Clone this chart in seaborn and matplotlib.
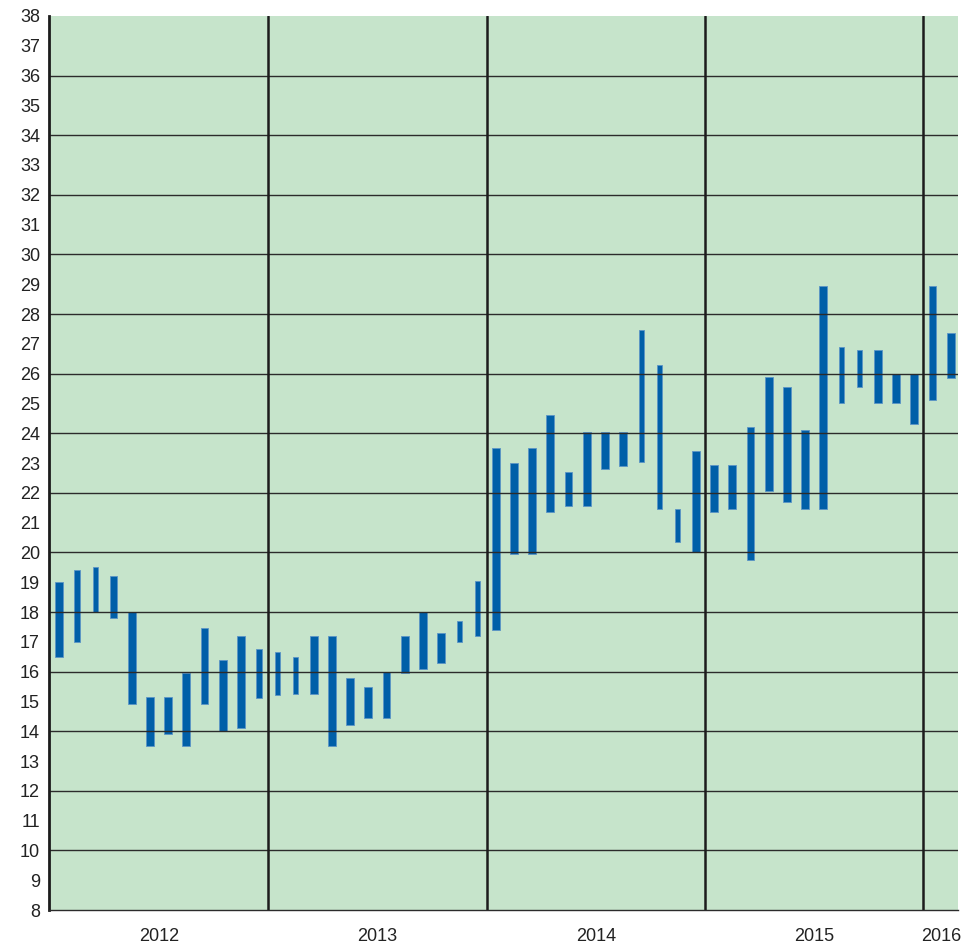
import numpy as np
import pandas as pd
import seaborn as sns
import matplotlib.pyplot as plt

# monthly low / high ranges, Jan 2012 .. Feb 2016
years = [2012] * 12 + [2013] * 12 + [2014] * 12 + [2015] * 12 + [2016] * 2
months = list(range(1, 13)) * 4 + [1, 2]
low = [16.5, 17.0, 18.0, 17.8, 14.9, 13.5, 13.9, 13.5, 14.9, 14.0, 14.1, 15.1,
       15.2, 15.25, 15.25, 13.5, 14.2, 14.45, 14.45, 15.95, 16.1, 16.3, 17.0, 17.2,
       17.4, 19.95, 19.95, 21.35, 21.55, 21.55, 22.8, 22.9, 23.05, 21.45, 20.35, 20.0,
       21.35, 21.45, 19.75, 22.05, 21.7, 21.45, 21.45, 25.0, 25.55, 25.0, 25.0, 24.3,
       25.1, 25.85]
high = [19.0, 19.4, 19.5, 19.2, 18.0, 15.15, 15.15, 15.95, 17.45, 16.4, 17.2, 16.75,
        16.65, 16.5, 17.2, 17.2, 15.8, 15.5, 16.0, 17.2, 18.0, 17.3, 17.7, 19.05,
        23.5, 23.0, 23.5, 24.6, 22.7, 24.05, 24.05, 24.05, 27.45, 26.3, 21.45, 23.4,
        22.95, 22.95, 24.2, 25.9, 25.55, 24.1, 28.95, 26.9, 26.8, 26.8, 26.0, 26.0,
        28.95, 27.35]

df = pd.DataFrame({'year': years, 'month': months, 'low': low, 'high': high})
df['label'] = df['year'].astype(str) + '-' + df['month'].astype(str).str.zfill(2)
df['span'] = df['high'] - df['low']

# some bars are drawn narrower in the original
thin = {1, 2, 11, 12, 13, 22, 23, 32, 33, 34, 43, 44}

sns.set_style('white')
plt.rcParams['font.family'] = ['Liberation Sans', 'DejaVu Sans']

fig = plt.figure(figsize=(9.67, 9.46), dpi=100)
ax = fig.add_axes([0.0507, 0.038, 0.94, 0.9451])
ax.set_facecolor('#c6e4cb')

sns.barplot(data=df, x='label', y='span', bottom=df['low'].values, color='#005fa8',
            saturation=1, width=0.43, edgecolor='#5b94c6', linewidth=0.6, ax=ax)

# narrow some bars
for i, p in enumerate(ax.patches):
    if i in thin:
        cx = p.get_x() + p.get_width() / 2
        p.set_width(0.29)
        p.set_x(cx - 0.145)

# horizontal gridlines every 2
for v in range(10, 38, 2):
    ax.axhline(v, color='#2b2b2b', lw=1.0, zorder=1)

# year boundaries
idx = np.arange(len(df))
bounds = [i - 0.5 for i in idx[1:] if df['year'][i] != df['year'][i - 1]]
for b in bounds:
    ax.axvline(b, color='#1c1c1c', lw=1.8, zorder=1)

ax.set_ylim(8, 38)
ax.set_xlim(-0.54, 49.4)
ax.set_yticks(range(8, 39))
ax.tick_params(axis='y', direction='inout', length=9, width=1.8, labelsize=13,
               color='#1c1c1c', labelcolor='#222222', pad=2)

year_centers = df.groupby('year').apply(lambda g: g.index.values.mean(), include_groups=False)
ax.set_xticks(year_centers.values)
ax.set_xticklabels([str(y) for y in year_centers.index])
ax.tick_params(axis='x', length=0, labelsize=13, labelcolor='#222222', pad=13)
ax.set_xticks([-0.54] + bounds, minor=True)
ax.tick_params(axis='x', which='minor', direction='out', length=4, width=1.8, color='#1c1c1c')

ax.set_xlabel('')
ax.set_ylabel('')
for s in ['top', 'right']:
    ax.spines[s].set_visible(False)
ax.spines['left'].set_linewidth(2)
ax.spines['left'].set_color('#1c1c1c')
ax.spines['bottom'].set_linewidth(1.0)
ax.spines['bottom'].set_color('#2b2b2b')

fig.savefig('out.png', dpi=100)
